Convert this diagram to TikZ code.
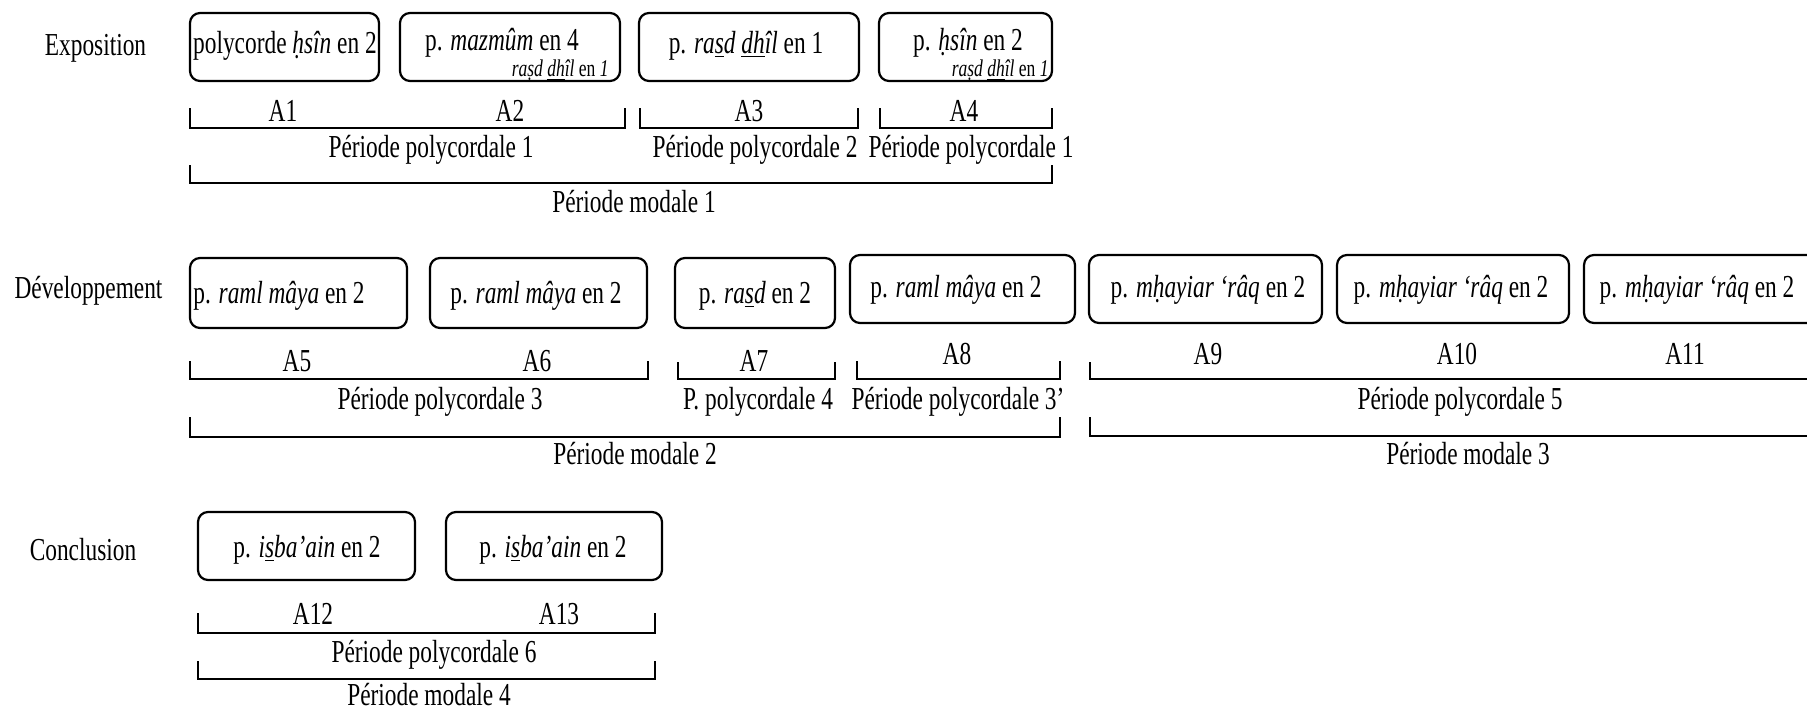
\documentclass[tikz,border=0pt]{standalone}
\usepackage{fontspec}
\setmainfont{Liberation Serif}[FakeStretch=0.73]
\usetikzlibrary{fit}
\newcommand\brkt[4]{\draw[brk] (#1,#3) -- (#1,#4) -- (#2,#4) -- (#2,#3);}
\tikzset{
  box/.style={draw, line width=1.1pt, rounded corners=5pt, inner sep=0pt},
  txt/.style={anchor=base, inner sep=0pt, font=\fontsize{16}{18}\selectfont},
  sml/.style={anchor=base east, inner sep=0pt, font=\fontsize{12}{13}\selectfont},
  brk/.style={line width=1.1pt},
}
\begin{document}
\begin{tikzpicture}[x=0.5pt,y=-0.5pt]
\clip (0,0) rectangle (1807,712);
% ---------------- Row 1 : Exposition
\node[txt] (expo) at (95.5,55) {Exposition};
\node[box, fit={(190,13) (379,81)}] (b1) {};
\node[box, fit={(400,13) (620,81)}] (b2) {};
\node[box, fit={(639,13) (859,81)}] (b3) {};
\node[box, fit={(879,13) (1052,81)}] (b4) {};
\node[txt] (t1) at (285,53) {polycorde \textit{ḥsîn} en 2};
\node[txt] (t2) at (502,50) {p. \textit{mazmûm} en 4};
\node[sml] (s2) at (609,76) {\textit{raṣd \underline{dh}îl} en \textit{1}};
\node[txt] (t3) at (746,53) {p. \textit{ra\underline{s}d \underline{dh}îl} en 1};
\node[txt] (t4) at (968,50) {p. \textit{ḥsîn} en 2};
\node[sml] (s4) at (1049,76) {\textit{raṣd \underline{dh}îl} en \textit{1}};
\node[txt] (a1) at (283,121) {A1};
\node[txt] (a2) at (510,121) {A2};
\node[txt] (a3) at (749,121) {A3};
\node[txt] (a4) at (964,121) {A4};
\brkt{190}{625}{108}{128}
\brkt{640}{858}{108}{128}
\brkt{880}{1052}{108}{128}
\node[txt] (pp1) at (431,157) {Période polycordale 1};
\node[txt] (pp2) at (755,157) {Période polycordale 2};
\node[txt] (pp1b) at (971,157) {Période polycordale 1};
\brkt{190}{1052}{165}{183}
\node[txt] (pm1) at (634,212) {Période modale 1};
% ---------------- Row 2 : Développement
\node[txt] (dev) at (88.5,298) {Développement};
\node[box, fit={(190,258) (407,328)}] (b5) {};
\node[box, fit={(430,258) (647,328)}] (b6) {};
\node[box, fit={(675,258) (835,328)}] (b7) {};
\node[box, fit={(850,255) (1075,323)}] (b8) {};
\node[box, fit={(1089,255) (1322,323)}] (b9) {};
\node[box, fit={(1337,255) (1569,323)}] (b10) {};
\node[box, fit={(1584,255) (1820,323)}] (b11) {};
\node[txt] (t5) at (279,303) {p. \textit{raml mâya} en 2};
\node[txt] (t6) at (536,303) {p. \textit{raml mâya} en 2};
\node[txt] (t7) at (755,303) {p. \textit{ra\underline{s}d} en 2};
\node[txt] (t8) at (956,297) {p. \textit{raml mâya} en 2};
\node[txt] (t9) at (1208,297) {p. \textit{mḥayiar ‘râq} en 2};
\node[txt] (t10) at (1451,297) {p. \textit{mḥayiar ‘râq} en 2};
\node[txt] (t11) at (1697,297) {p. \textit{mḥayiar ‘râq} en 2};
\node[txt] (a5) at (297,371) {A5};
\node[txt] (a6) at (537,371) {A6};
\node[txt] (a7) at (754,371) {A7};
\node[txt] (a8) at (957,364) {A8};
\node[txt] (a9) at (1208,364) {A9};
\node[txt] (a10) at (1457,364) {A10};
\node[txt] (a11) at (1685,364) {A11};
\brkt{190}{648}{361}{379}
\brkt{678}{835}{362}{379}
\brkt{857}{1060}{361}{379}
\draw[brk] (1090,362) -- (1090,379) -- (1815,379);
\node[txt] (pp3) at (440,409) {Période polycordale 3};
\node[txt] (pp4) at (758,409) {P. polycordale 4};
\node[txt] (pp3b) at (958,409) {Période polycordale 3’};
\node[txt] (pp5) at (1460,409) {Période polycordale 5};
\brkt{190}{1060}{417}{437}
\draw[brk] (1090,417) -- (1090,436) -- (1815,436);
\node[txt] (pm2) at (635,464) {Période modale 2};
\node[txt] (pm3) at (1468,464) {Période modale 3};
% ---------------- Row 3 : Conclusion
\node[txt] (conc) at (83,560) {Conclusion};
\node[box, fit={(198,512) (415,580)}] (b12) {};
\node[box, fit={(446,512) (662,580)}] (b13) {};
\node[txt] (t12) at (307,557) {p. \textit{i\underline{s}ba’ain} en 2};
\node[txt] (t13) at (553,557) {p. \textit{i\underline{s}ba’ain} en 2};
\node[txt] (a12) at (313,624) {A12};
\node[txt] (a13) at (559,624) {A13};
\brkt{198}{655}{613}{633}
\node[txt] (pp6) at (434,662) {Période polycordale 6};
\brkt{198}{655}{661}{679}
\node[txt] (pm4) at (429,705) {Période modale 4};
\end{tikzpicture}
\end{document}
